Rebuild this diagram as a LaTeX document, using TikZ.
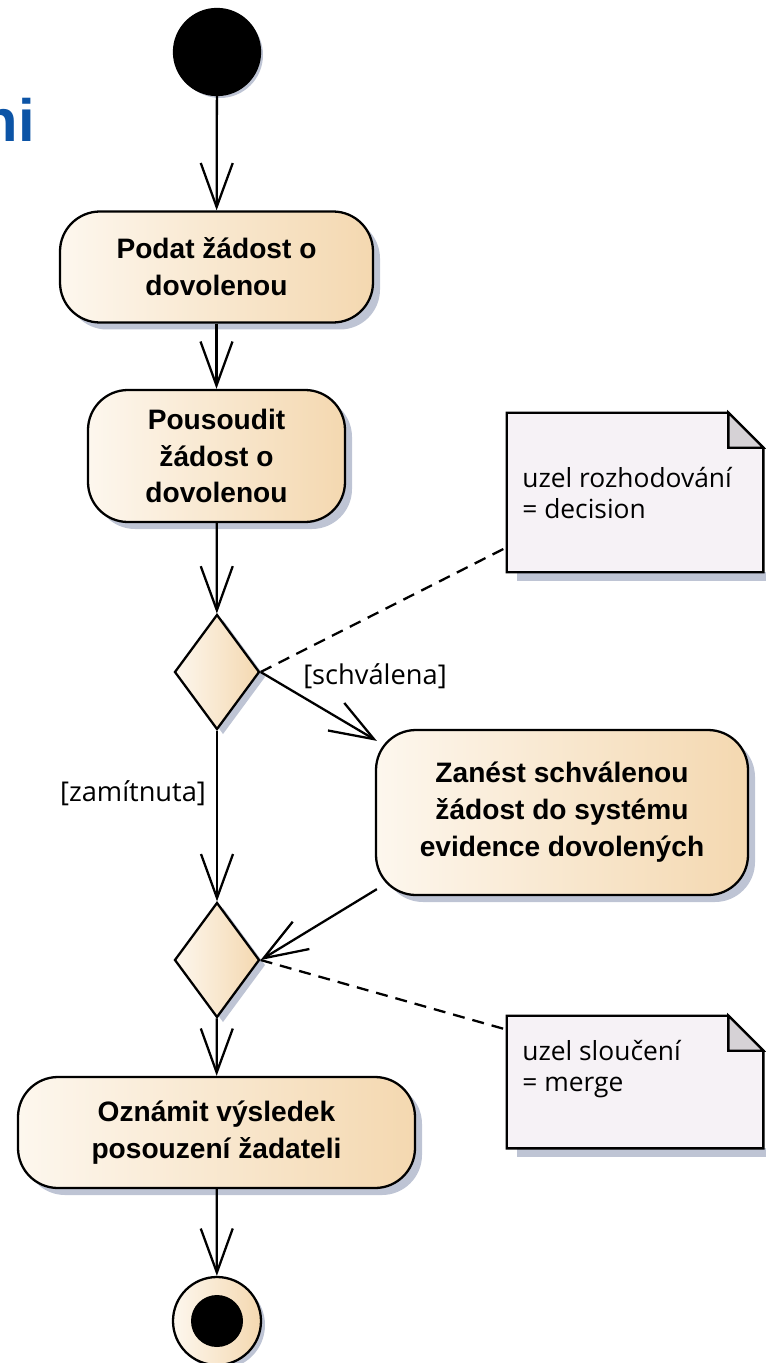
\documentclass[tikz,border=0pt]{standalone}
\usepackage{fontspec}
\setmainfont{Liberation Sans}
\newfontfamily\notefont{Open Sans}
\usetikzlibrary{shapes.geometric,shadows,arrows.meta}
\definecolor{actionlight}{RGB}{253,247,238}
\definecolor{actiondark}{RGB}{244,216,176}
\definecolor{shadowgray}{RGB}{190,196,212}
\definecolor{notefill}{RGB}{246,242,246}
\definecolor{notefold}{RGB}{214,210,214}
\definecolor{titleblue}{RGB}{12,84,166}
\tikzstyle{action}=[rectangle, rounded corners=.8cm, draw, line width=1.3pt, left color=actionlight, right color=actiondark, align=center, font=\fontsize{16}{21}\selectfont\bfseries, drop shadow={shadow xshift=.14cm, shadow yshift=-.14cm, fill=shadowgray, opacity=1}]
\tikzstyle{decision}=[diamond, draw, line width=1.3pt, left color=actionlight, right color=actiondark, minimum width=1.7cm, minimum height=2.3cm, inner sep=0, drop shadow={shadow xshift=.12cm, shadow yshift=-.1cm, fill=shadowgray, opacity=1}]
\tikzstyle{initial}=[circle, fill=black, draw, line width=1.3pt, minimum size=1.72cm, inner sep=0, drop shadow={shadow xshift=.06cm, shadow yshift=-.06cm, fill=shadowgray, opacity=1}]
\tikzstyle{final}=[circle, draw, line width=1.3pt, left color=actionlight, right color=actiondark, minimum size=1.76cm, inner sep=0, drop shadow={shadow xshift=.08cm, shadow yshift=-.08cm, fill=shadowgray, opacity=1}]
\tikzstyle{finaldot}=[circle, fill=black, minimum size=1.04cm, inner sep=0]
\tikzset{flow/.style={-{Straight Barb[length=8.8mm,width=6.4mm]}, line width=1.3pt}}
\tikzset{anchorline/.style={dash pattern=on .24cm off .16cm, line width=1.3pt}}
\tikzset{notebox/.style={rectangle, minimum width=5.12cm, inner sep=0}}
\tikzset{notetext/.style={anchor=west, align=left, inner sep=0, font=\notefont\fontsize{15}{17.6}\selectfont}}
\tikzset{guard/.style={inner sep=0, font=\notefont\fontsize{15.5}{18}\selectfont}}
\newcommand{\dogear}[1]{%
  \fill[shadowgray] ([xshift=.2cm]#1.south west) rectangle ([xshift=.2cm,yshift=-.18cm]#1.south east);
  \draw[line width=1.3pt, fill=notefill] (#1.south west) -- (#1.north west) -- ([xshift=-.7cm]#1.north east) -- ([yshift=-.7cm]#1.north east) -- (#1.south east) -- cycle;
  \draw[line width=1.3pt, fill=notefold] ([xshift=-.7cm]#1.north east) -- ([xshift=-.7cm,yshift=-.7cm]#1.north east) -- ([yshift=-.7cm]#1.north east) -- cycle;}

\begin{document}
\begin{tikzpicture}
  \useasboundingbox (0,0) rectangle (15.3,-27.26);
  %% cut heading
  \draw (0.70,-2.84) node[anchor=base east, inner sep=0, text=titleblue, font=\fontsize{34}{34}\selectfont\bfseries] (title) {ni};

  %% activity nodes
  \draw (4.34,-1.04) node[initial] (start) {};
  \draw (4.33,-5.34) node[action, minimum width=6.26cm, minimum height=2.22cm] (A1) {Podat žádost o\\dovolenou};
  \draw (4.33,-9.12) node[action, minimum width=5.14cm, minimum height=2.64cm] (A2) {Pousoudit\\žádost o\\dovolenou};
  \draw (4.34,-13.44) node[decision] (D1) {};
  \draw (11.24,-16.25) node[action, minimum width=7.44cm, minimum height=3.3cm] (A3) {Zanést schválenou\\žádost do systému\\evidence dovolených};
  \draw (4.34,-19.2) node[decision] (D2) {};
  \draw (4.33,-22.65) node[action, minimum width=7.94cm, minimum height=2.22cm] (A4) {Oznámit výsledek\\posouzení žadateli};
  \draw (4.34,-26.42) node[final] (end) {};
  \draw (4.34,-26.42) node[finaldot] (enddot) {};

  %% flows
  \draw[flow] (start) -- (A1);
  \draw[flow] (A1) -- (A2);
  \draw[flow] (A2) -- (D1);
  \draw[flow] (D1.east) -- ([xshift=.04cm,yshift=-.24cm]A3.north west);
  \draw[flow] (D1) -- (D2);
  \draw[flow] ([xshift=.04cm,yshift=.14cm]A3.south west) -- (D2.east);
  \draw[flow] (D2) -- (A4);
  \draw[flow] (A4) -- (end);

  \draw (7.5,-13.52) node[guard] (g1) {[schválena]};
  \draw (2.66,-15.86) node[guard] (g2) {[zamítnuta]};

  %% notes
  \draw (12.70,-9.85) node[notebox, minimum height=3.18cm] (N1) {};
  \dogear{N1}
  \draw (10.44,-9.86) node[notetext] (T1) {uzel rozhodování\\= decision};
  \draw (12.70,-21.64) node[notebox, minimum height=2.64cm] (N2) {};
  \dogear{N2}
  \draw (10.44,-21.38) node[notetext] (T2) {uzel sloučení\\= merge};

  \draw[anchorline] (D1.east) -- ([yshift=.5cm]N1.south west);
  \draw[anchorline] (D2.east) -- ([yshift=-.28cm]N2.north west);
\end{tikzpicture}
\end{document}
